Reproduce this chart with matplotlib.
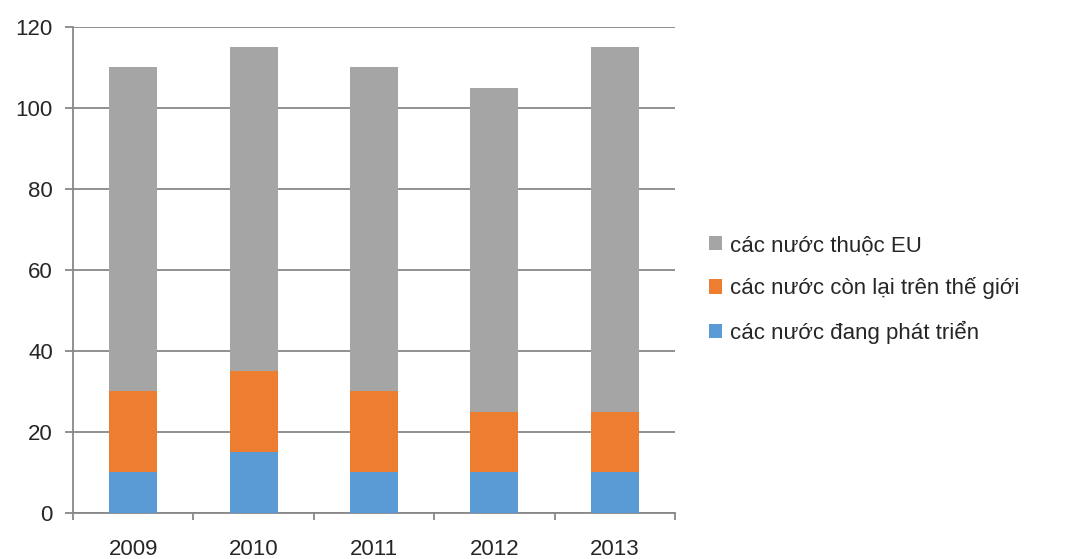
import matplotlib.pyplot as plt
import numpy as np

plt.rcParams['font.family'] = ['Liberation Sans', 'DejaVu Sans']

years = ["2009", "2010", "2011", "2012", "2013"]
dang_phat_trien = [10, 15, 10, 10, 10]
con_lai = [20, 20, 20, 15, 15]
thuoc_eu = [80, 80, 80, 80, 90]
y_ticks = [0, 20, 40, 60, 80, 100, 120]

fig = plt.figure(figsize=(10.66, 5.59), dpi=100)
ax = fig.add_axes([0.0685, 0.0823, 0.5647, 0.8694])

x = np.arange(len(years))
w = 0.4
blue, orange, gray = "#5B9BD5", "#ED7D31", "#A5A5A5"
b1 = ax.bar(x, dang_phat_trien, w, color=blue, label="các nước đang phát triển", zorder=3)
bottom2 = np.array(dang_phat_trien)
b2 = ax.bar(x, con_lai, w, bottom=bottom2, color=orange,
            label="các nước còn lại trên thế giới", zorder=3)
bottom3 = bottom2 + np.array(con_lai)
b3 = ax.bar(x, thuoc_eu, w, bottom=bottom3, color=gray, label="các nước thuộc EU", zorder=3)

ax.set_xlim(-0.5, len(years) - 0.5)
ax.set_ylim(0, 120)
ax.set_yticks(y_ticks)
line_c = "#888888"
ax.yaxis.grid(True, color=line_c, linewidth=1.3, zorder=0)

for s in ["top", "right"]:
    ax.spines[s].set_visible(False)
for s in ["left", "bottom"]:
    ax.spines[s].set_color(line_c)
    ax.spines[s].set_linewidth(1.3)

txt_c = "#262626"
ax.set_xticks(x)
ax.set_xticklabels(years)
ax.tick_params(axis="x", length=0, labelsize=16, pad=19, labelcolor=txt_c)
ax.set_xticks(np.arange(len(years) + 1) - 0.5, minor=True)
ax.tick_params(axis="x", which="minor", length=5, color=line_c, width=1.3)
ax.tick_params(axis="y", length=6, color=line_c, width=1.3, labelsize=16,
               pad=8.5, labelcolor=txt_c)

ax.legend(handles=[b3, b2, b1], loc="center left", bbox_to_anchor=(1.023, 0.46),
          frameon=False, fontsize=16, handlelength=0.6, handleheight=0.6,
          handletextpad=0.35, labelspacing=0.95, labelcolor=txt_c)

fig.savefig("out.png", dpi=100)
